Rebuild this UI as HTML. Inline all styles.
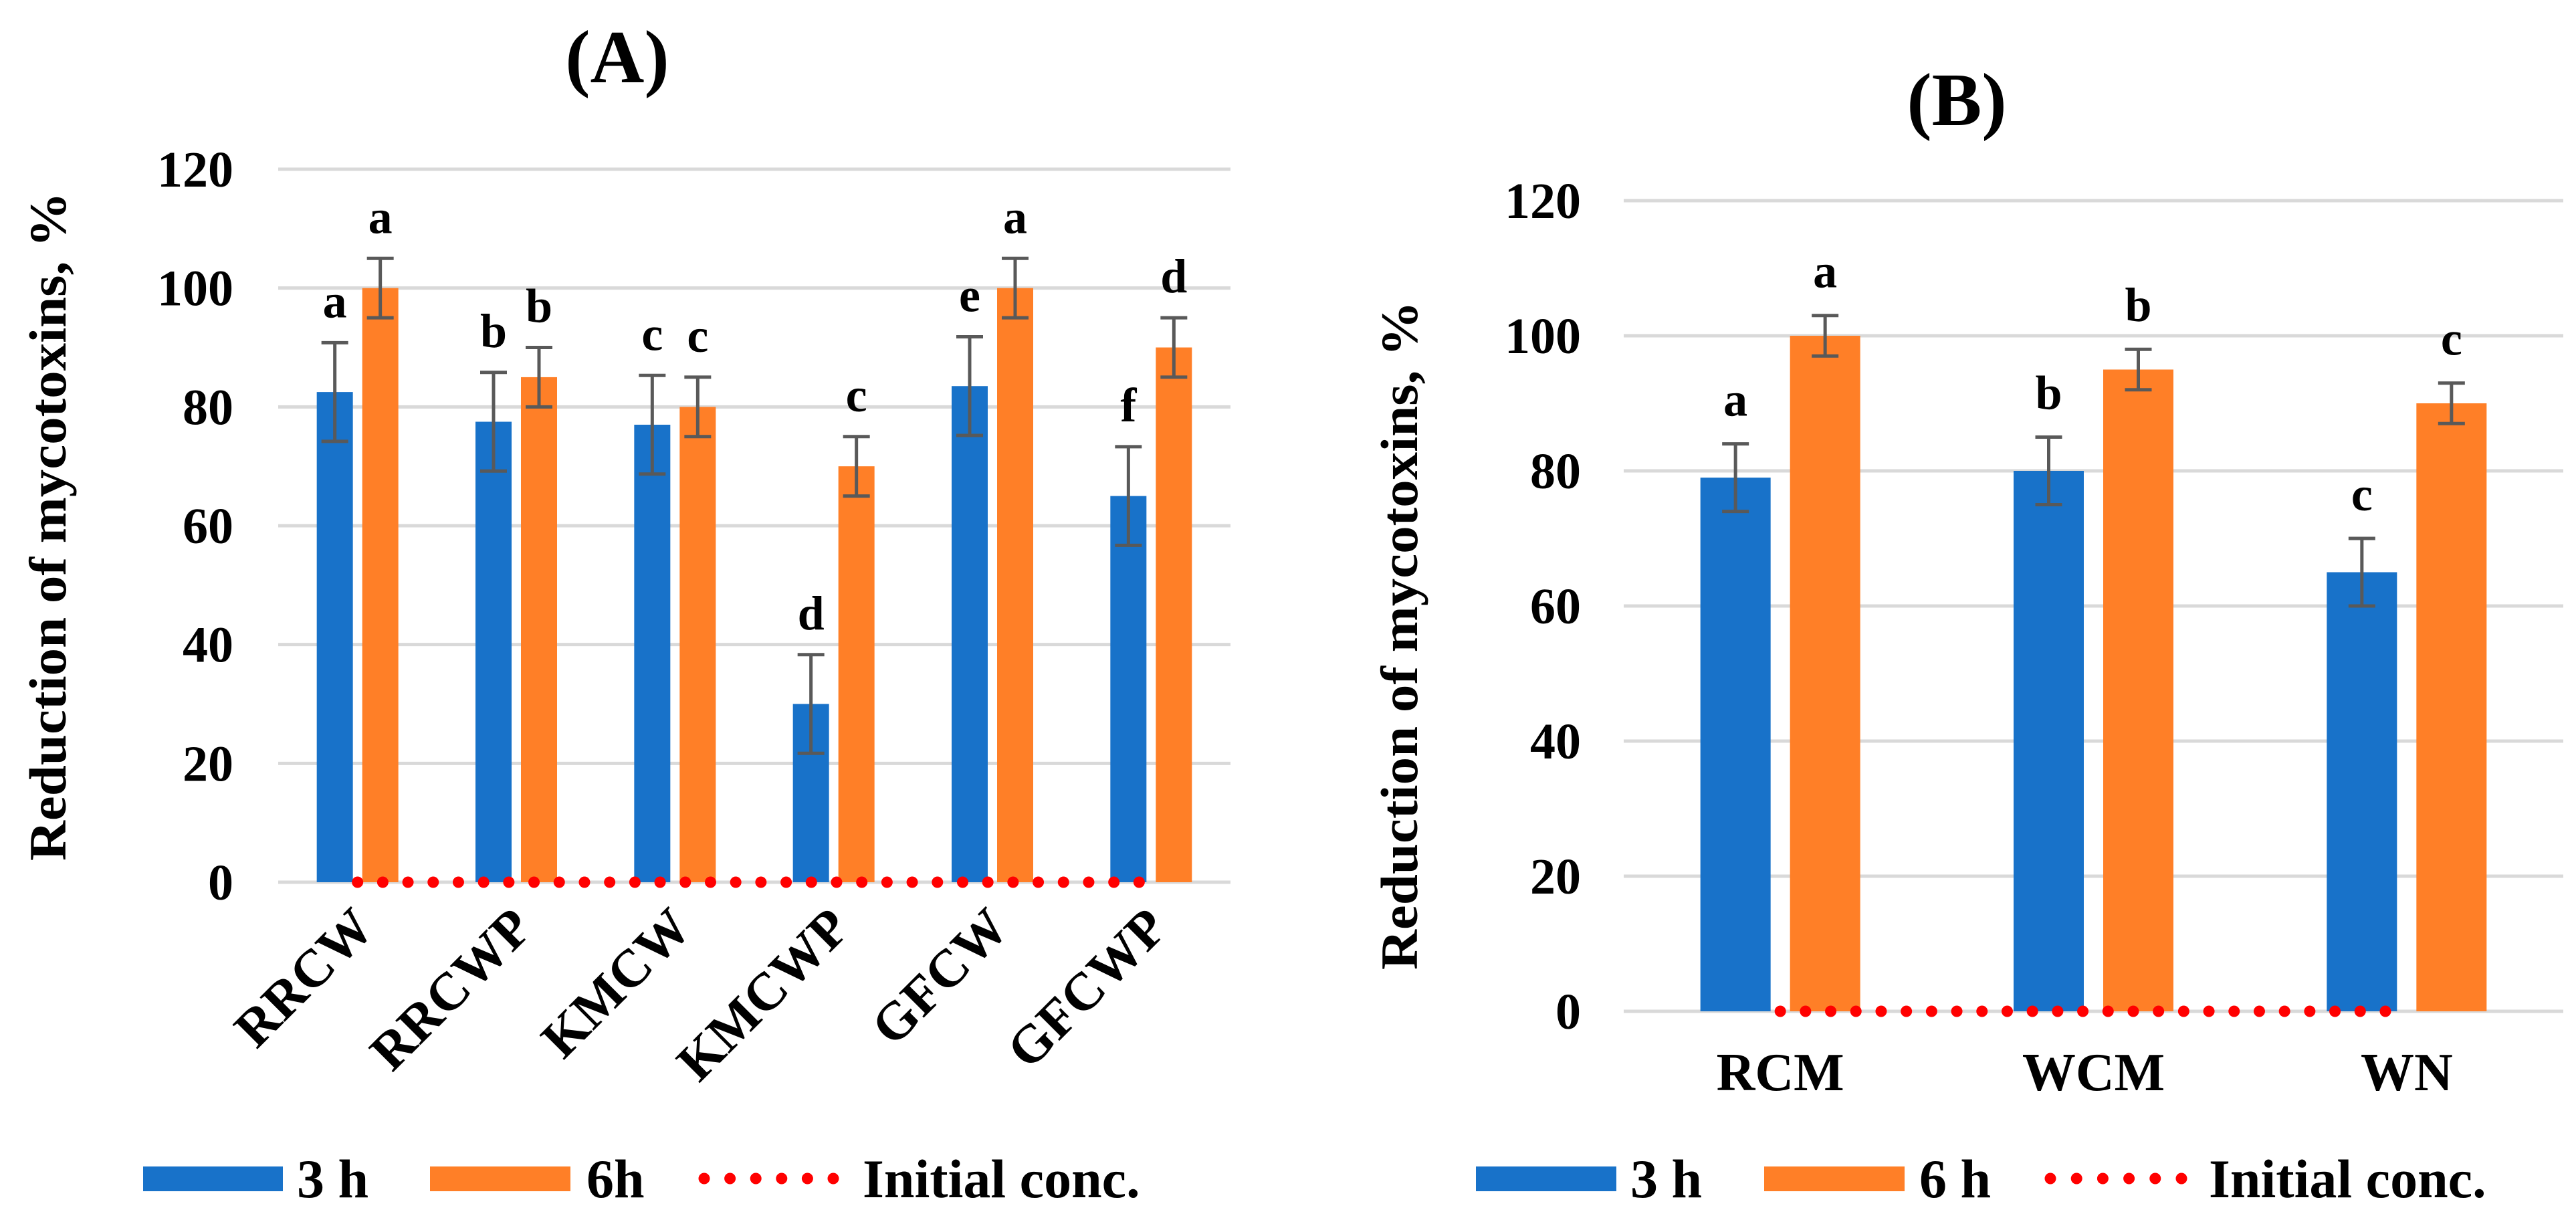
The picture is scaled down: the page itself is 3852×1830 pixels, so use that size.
<!DOCTYPE html>
<html><head><meta charset="utf-8">
<style>
html,body{margin:0;padding:0;background:#fff;}
svg{display:block;font-family:"Liberation Serif",serif;font-weight:bold;}
</style></head>
<body>
<svg id="chart" width="3852" height="1830" viewBox="0 0 3852 1830" xmlns="http://www.w3.org/2000/svg">
  <text x="923" y="123" font-size="112" text-anchor="middle">(A)</text>
  <text x="2926" y="187" font-size="112" text-anchor="middle">(B)</text>
  <text transform="translate(98,787) rotate(-90)" font-size="78" text-anchor="middle" textLength="1000" lengthAdjust="spacingAndGlyphs">Reduction of mycotoxins, %</text>
  <text transform="translate(2119,950) rotate(-90)" font-size="78" text-anchor="middle" textLength="1000" lengthAdjust="spacingAndGlyphs">Reduction of mycotoxins, %</text>
  <g id="panelA"></g>
  <g id="panelB"></g>
  <g font-size="82">
    <rect x="214" y="1744" width="209" height="37" fill="#1872C9"/>
    <text x="444" y="1790">3 h</text>
    <rect x="643" y="1744" width="210" height="37" fill="#FF7F27"/>
    <text x="877" y="1790">6h</text>
    <line x1="1053" y1="1762" x2="1246" y2="1762" stroke="#FF0000" stroke-width="17" stroke-linecap="round" stroke-dasharray="0 38.6"/>
    <text x="1290" y="1790">Initial conc.</text>
  </g>
  <g font-size="82">
    <rect x="2207" y="1744" width="210" height="37" fill="#1872C9"/>
    <text x="2438" y="1790">3 h</text>
    <rect x="2638" y="1744" width="210" height="37" fill="#FF7F27"/>
    <text x="2870" y="1790">6 h</text>
    <line x1="3066" y1="1762" x2="3262" y2="1762" stroke="#FF0000" stroke-width="17" stroke-linecap="round" stroke-dasharray="0 39.2"/>
    <text x="3303" y="1790">Initial conc.</text>
  </g>
</svg>
<script>
const catsA = ["RRCW","RRCWP","KMCW","KMCWP","GFCW","GFCWP"];
const h3A = [82.5, 77.5, 77, 30, 83.5, 65];
const h6A = [100, 85, 80, 70, 100, 90];
const err3A = [8.3, 8.3, 8.3, 8.3, 8.3, 8.3];
const err6A = [5, 5, 5, 5, 5, 5];
const lbl3A = ["a","b","c","d","e","f"];
const lbl6A = ["a","b","c","c","a","d"];
const initA = [0,0,0,0,0,0];

const catsB = ["RCM","WCM","WN"];
const h3B = [79, 80, 65];
const h6B = [100, 95, 90];
const err3B = [5, 5, 5];
const err6B = [3, 3, 3];
const lbl3B = ["a","b","c"];
const lbl6B = ["a","b","c"];
const initB = [0,0,0];

const ticks = [0,20,40,60,80,100,120];

const NS = "http://www.w3.org/2000/svg";
function mk(parent, tag, attrs){
  const e = document.createElementNS(NS, tag);
  for (const k in attrs) e.setAttribute(k, attrs[k]);
  parent.appendChild(e);
  return e;
}

function drawPanel(g, cfg, cats, s3, s6, e3, e6, l3, l6, init){
  const y = v => cfg.y0 - (v/120)*(cfg.y0 - cfg.y120);
  const step = (cfg.x1 - cfg.x0)/cats.length;
  const cx = i => cfg.x0 + step*(i+0.5);
  ticks.forEach(t=>{
    const gl = mk(g,"line",{x1:cfg.x0,x2:cfg.x1,y1:y(t),y2:y(t),stroke:"#D9D9D9","stroke-width":5});
    
    
    const tl = mk(g,"text",{x:cfg.tickX,y:y(t)+26,"font-size":76,"text-anchor":"end"});
    tl.textContent = t;
    
    
  });
  const series = [[s3,e3,l3,"#1872C9",-cfg.off,"3h"],[s6,e6,l6,"#FF7F27",cfg.off,"6h"]];
  cats.forEach((c,i)=>{
    series.forEach(([vals,errs,lbls,col,off,nm])=>{
      const xc = cx(i)+off, v = vals[i];
      const r = mk(g,"rect",{x:xc-cfg.bw/2,y:y(v),width:cfg.bw,height:y(0)-y(v),fill:col});
      
      
      const top = y(v+errs[i]), bot = y(v-errs[i]);
      const eb = mk(g,"path",{d:`M${xc},${top}V${bot}M${xc-20},${top}H${xc+20}M${xc-20},${bot}H${xc+20}`,stroke:"#595959","stroke-width":5,fill:"none"});
      
      
      const lt = mk(g,"text",{x:xc,y:top-cfg.lblGap,"font-size":72,"text-anchor":"middle"});
      lt.textContent = lbls[i];
      
      
    });
    let xl;
    if (cfg.rot){
      xl = mk(g,"text",{transform:`translate(${cx(i)+28},${y(0)+72}) rotate(-45)`,"font-size":80,"text-anchor":"end"});
    } else {
      xl = mk(g,"text",{x:cx(i),y:cfg.xlabY,"font-size":80,"text-anchor":"middle"});
    }
    xl.textContent = c;
    
    
  });
  const dl = mk(g,"polyline",{points:init.map((v,i)=>`${cx(i)},${y(v)}`).join(" "),fill:"none",stroke:"#FF0000","stroke-width":17,"stroke-linecap":"round","stroke-dasharray":"0 37.7"});
  
  
}

drawPanel(document.getElementById("panelA"),
  {x0:416,x1:1840,y0:1319,y120:253,tickX:349,bw:54,off:34,lblGap:38,rot:true},
  catsA,h3A,h6A,err3A,err6A,lbl3A,lbl6A,initA);
drawPanel(document.getElementById("panelB"),
  {x0:2428,x1:3833,y0:1512,y120:300,tickX:2364,bw:105,off:67,lblGap:42,rot:false,xlabY:1630},
  catsB,h3B,h6B,err3B,err6B,lbl3B,lbl6B,initB);
</script>
</body></html>
